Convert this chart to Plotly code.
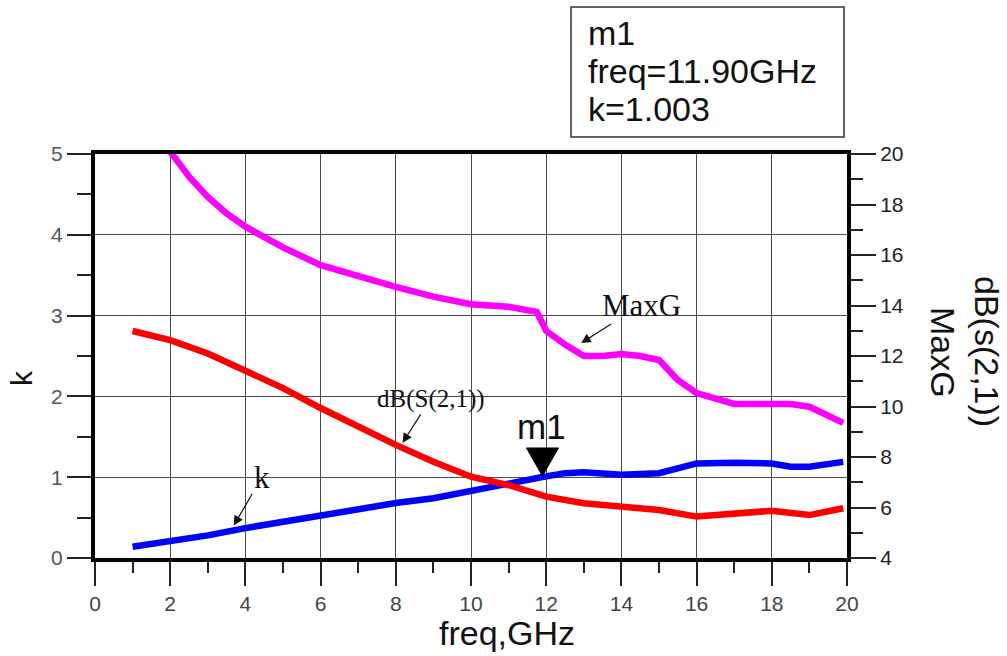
import numpy as np
import plotly.graph_objects as go

# ---------------- data ----------------
freq_maxg = [1.95, 2.5, 3, 3.5, 4, 5, 6, 7, 8, 9, 10, 11, 11.75, 12.0, 12.25, 12.5, 13,
             13.5, 14, 14.5, 15, 15.5, 16, 16.5, 17, 18, 18.5, 19, 19.5, 19.9]
maxg = [20.2, 19.1, 18.3, 17.65, 17.12, 16.3, 15.6, 15.14, 14.74, 14.35, 14.05, 13.95, 13.75,
        13.0, 12.7, 12.45, 12.0, 12.0, 12.08, 12.0, 11.84, 11.05, 10.53, 10.3, 10.1, 10.1,
        10.1, 9.99, 9.6, 9.35]

freq_s21 = [1, 2, 3, 4, 5, 6, 7, 8, 9, 10, 11, 12, 13, 14, 15, 16, 17, 18, 19, 19.9]
db_s21 = [12.99, 12.63, 12.1, 11.45, 10.73, 9.94, 9.2, 8.48, 7.81, 7.22, 6.89, 6.43, 6.17,
          6.03, 5.9, 5.64, 5.74, 5.87, 5.7, 5.97]

freq_k = [1, 2, 3, 4, 5, 6, 7, 8, 9, 10, 10.5, 11, 11.9, 12.5, 13, 14, 15, 15.5, 16, 17,
          18, 18.5, 19, 19.9]
k_vals = [0.14, 0.2, 0.28, 0.37, 0.45, 0.53, 0.62, 0.68, 0.74, 0.82, 0.86, 0.92, 1.003, 1.05,
          1.06, 1.03, 1.05, 1.11, 1.17, 1.18, 1.17, 1.13, 1.13, 1.19]

m1_freq = 11.90
m1_k = 1.003
marker_lines = ["m1", "freq=11.90GHz", "k=1.003"]

x_ticks = list(range(0, 21, 2))
k_ticks = [0, 1, 2, 3, 4, 5]
db_ticks = list(range(4, 21, 2))

# label arrow targets (freq positions along curves)
k_label_f = 3.69
s21_label_f = 8.18
maxg_label_f = 12.93

SANS = "Liberation Sans, Arial, sans-serif"
SERIF = "Liberation Serif, Times New Roman, serif"

# plot area in pixels (for paper-coordinate placement of outer texts)
L, R, T, B = 95, 847, 154, 558
W, H = R - L, B - T


def px(xp):
    return (xp - L) / W


def py(yp):
    return (B - yp) / H


fig = go.Figure()
fig.add_trace(go.Scatter(x=freq_maxg, y=maxg, yaxis="y2", mode="lines",
                         line=dict(color="#FF00FF", width=6.5), showlegend=False))
fig.add_trace(go.Scatter(x=freq_s21, y=db_s21, yaxis="y2", mode="lines",
                         line=dict(color="#FF0000", width=6.5), showlegend=False))
fig.add_trace(go.Scatter(x=freq_k, y=k_vals, yaxis="y", mode="lines",
                         line=dict(color="#0000FF", width=6.5), showlegend=False))

annotations = []
# arrow labels
k_tip = float(np.interp(k_label_f, freq_k, k_vals)) + 0.06
annotations.append(dict(x=k_label_f, y=k_tip, xref="x", yref="y", text="k",
                        font=dict(family=SERIF, size=31, color="#111"),
                        showarrow=True, ax=28, ay=-48, arrowhead=2, arrowsize=1.6,
                        arrowwidth=1.2, arrowcolor="#111", standoff=0))
s21_tip = float(np.interp(s21_label_f, freq_s21, db_s21)) + 0.2
annotations.append(dict(x=s21_label_f, y=s21_tip, xref="x", yref="y2", text="dB(S(2,1))",
                        font=dict(family=SERIF, size=25, color="#111"),
                        showarrow=True, ax=28, ay=-44, arrowhead=2, arrowsize=1.6,
                        arrowwidth=1.2, arrowcolor="#111", standoff=0))
maxg_tip = float(np.interp(maxg_label_f, freq_maxg, maxg)) + 0.45
annotations.append(dict(x=maxg_label_f, y=maxg_tip, xref="x", yref="y2", text="MaxG",
                        font=dict(family=SERIF, size=31, color="#111"),
                        showarrow=True, ax=60, ay=-38, arrowhead=2, arrowsize=1.6,
                        arrowwidth=1.2, arrowcolor="#111", standoff=0))
# m1 marker label
annotations.append(dict(x=m1_freq, y=m1_k, xref="x", yref="y", text="m1",
                        font=dict(family=SANS, size=35, color="#111"),
                        showarrow=False, yshift=50, xshift=-1))
# marker readout box text (one annotation per line)
for line_text, yc in zip(marker_lines, [33, 71, 109]):
    annotations.append(dict(x=px(586), y=py(yc), xref="paper", yref="paper",
                            xanchor="left", yanchor="middle", align="left",
                            text=line_text,
                            font=dict(family=SANS, size=34, color="#111"),
                            showarrow=False))
# axis titles
annotations.append(dict(x=px(21), y=py(378), xref="paper", yref="paper", text="k",
                        xanchor="center", yanchor="middle",
                        font=dict(family=SANS, size=30, color="#111"), textangle=-90,
                        showarrow=False))
annotations.append(dict(x=px(987), y=py(351), xref="paper", yref="paper",
                        xanchor="center", yanchor="middle",
                        text="dB(s(2,1))", font=dict(family=SANS, size=34, color="#111"),
                        textangle=90, showarrow=False))
annotations.append(dict(x=px(943), y=py(352), xref="paper", yref="paper",
                        xanchor="center", yanchor="middle",
                        text="MaxG", font=dict(family=SANS, size=34, color="#111"),
                        textangle=90, showarrow=False))
annotations.append(dict(x=px(507), y=py(633), xref="paper", yref="paper",
                        xanchor="center", yanchor="middle",
                        text="freq,GHz", font=dict(family=SANS, size=34, color="#111"),
                        showarrow=False))

shapes = [
    # marker readout box
    dict(type="rect", xref="paper", yref="paper",
         x0=px(571), x1=px(844), y0=py(137), y1=py(7),
         line=dict(color="#333", width=1.5), fillcolor="rgba(0,0,0,0)"),
    # m1 triangle marker
    dict(type="path", xref="x", yref="y", xsizemode="pixel", ysizemode="pixel",
         xanchor=m1_freq, yanchor=m1_k, path="M-16,29 L16,29 L0,1 Z",
         fillcolor="black", line=dict(color="black", width=1)),
]

fig.update_layout(
    width=1007, height=656,
    margin=dict(l=L, r=1007 - R, t=T, b=656 - B),
    paper_bgcolor="white", plot_bgcolor="white",
    showlegend=False,
    annotations=annotations,
    shapes=shapes,
    xaxis=dict(range=[0, 20], tickvals=x_ticks, ticktext=[str(v) for v in x_ticks],
               showline=True, linewidth=4, linecolor="black", mirror=True,
               showgrid=True, gridcolor="#4a4a4a", gridwidth=1.2, zeroline=False,
               ticks="outside", ticklen=24, tickwidth=1.5, tickcolor="#222",
               minor=dict(dtick=1, ticks="outside", ticklen=11, tickwidth=1.5,
                          tickcolor="#222", showgrid=False),
               tickfont=dict(family=SANS, size=21, color="#444")),
    yaxis=dict(range=[0, 5], tickvals=k_ticks, ticktext=[str(v) for v in k_ticks],
               showline=True, linewidth=4, linecolor="black",
               showgrid=True, gridcolor="#4a4a4a", gridwidth=1.2, zeroline=False,
               ticks="outside", ticklen=24, tickwidth=1.5, tickcolor="#222",
               minor=dict(dtick=0.5, ticks="outside", ticklen=14, tickwidth=1.5,
                          tickcolor="#222", showgrid=False),
               tickfont=dict(family=SANS, size=21, color="#555")),
    yaxis2=dict(range=[4, 20], tickvals=db_ticks, ticktext=[str(v) for v in db_ticks],
                overlaying="y", side="right",
                showline=True, linewidth=4, linecolor="black",
                showgrid=False, zeroline=False,
                ticks="outside", ticklen=25, tickwidth=1.5, tickcolor="#222",
                minor=dict(dtick=1, ticks="outside", ticklen=12, tickwidth=1.5,
                           tickcolor="#222", showgrid=False),
                tickfont=dict(family=SANS, size=21, color="#222")),
)

fig.write_html("out.html", config={"displayModeBar": False},
               post_script="document.body.style.margin='0';")
